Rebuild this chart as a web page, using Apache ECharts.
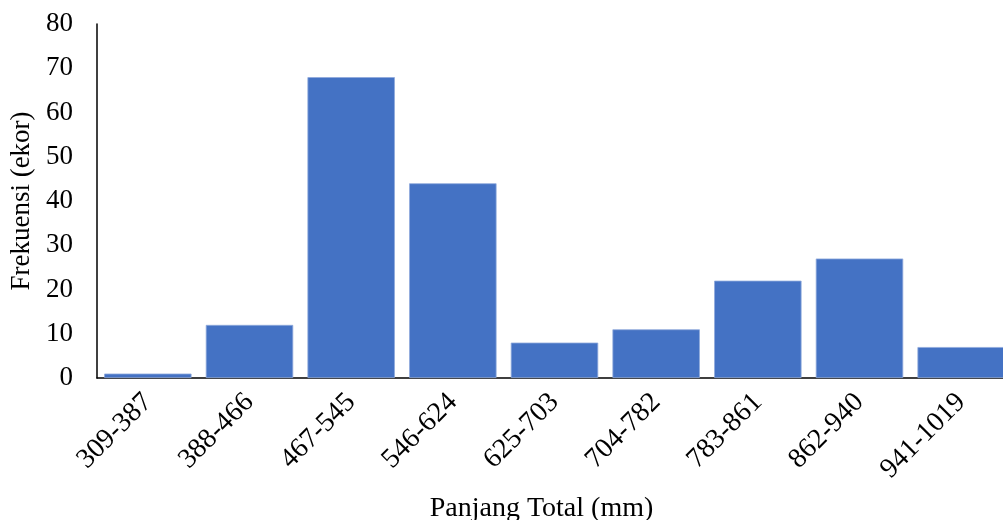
<!DOCTYPE html>
<html><head><meta charset="utf-8">
<script src="https://cdn.jsdelivr.net/npm/echarts@6/dist/echarts.min.js"></script>
<style>html,body{margin:0;padding:0;background:#fff}#c{width:1003px;height:520px}</style>
</head><body><div id="c"></div>
<script>
const categories = ['309-387','388-466','467-545','546-624','625-703','704-782','783-861','862-940','941-1019'];
const frekuensi = [1, 12, 68, 44, 8, 11, 22, 27, 7];
const yTicks = {min: 0, max: 80, interval: 10};
const xTitle = 'Panjang Total (mm)';
const yTitle = 'Frekuensi (ekor)';

const chart = echarts.init(document.getElementById('c'), null, {renderer: 'canvas'});
const font = 'Liberation Serif';
chart.setOption({
  animation: false,
  grid: {left: 97, top: 24, width: 915, height: 354, containLabel: false, outerBoundsMode: 'none'},
  xAxis: {
    type: 'category', data: categories,
    axisLine: {lineStyle: {color: '#000', width: 1.5}},
    axisTick: {show: false},
    axisLabel: {rotate: 45, fontFamily: font, fontSize: 28, color: '#000', margin: 20, interval: 0},
    name: xTitle, nameLocation: 'middle', nameGap: 117,
    nameTextStyle: {fontFamily: font, fontSize: 28, color: '#000', padding: [0, 26, 0, 0]}
  },
  yAxis: {
    type: 'value', min: yTicks.min, max: yTicks.max, interval: yTicks.interval,
    axisLine: {show: true, lineStyle: {color: '#000', width: 1.5}},
    axisTick: {show: false},
    splitLine: {show: false},
    axisLabel: {fontFamily: font, fontSize: 27, color: '#000', margin: 24},
    name: yTitle, nameLocation: 'middle', nameGap: 62,
    nameTextStyle: {fontFamily: font, fontSize: 27, color: '#000'}
  },
  series: [{
    type: 'bar', data: frekuensi, barCategoryGap: '14%',
    itemStyle: {color: '#4472C4', borderColor: '#8FAADC', borderWidth: 0.8}
  }]
});
</script></body></html>
